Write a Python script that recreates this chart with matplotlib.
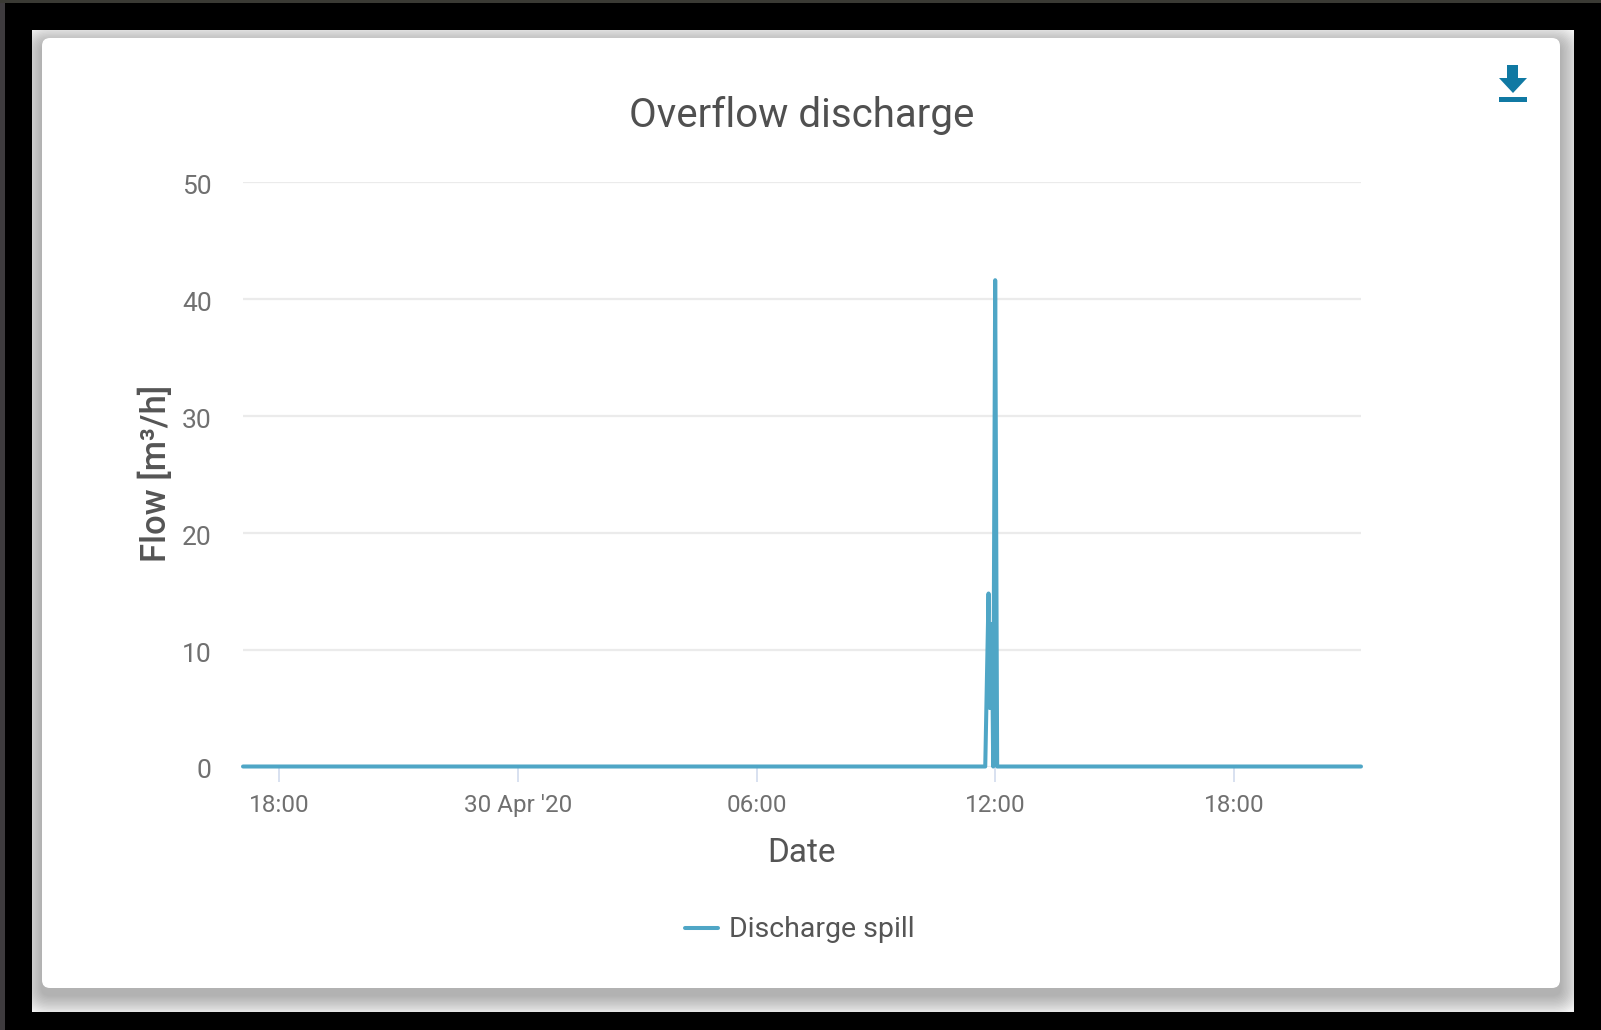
import matplotlib
matplotlib.use("Agg")
import matplotlib.pyplot as plt
from matplotlib.patches import FancyBboxPatch, Rectangle, Polygon
from matplotlib.transforms import ScaledTranslation
from datetime import datetime

plt.rcParams['font.family'] = ['Roboto', 'DejaVu Sans']

times = ["2020-04-29 17:05", "2020-04-30 11:45", "2020-04-30 11:50", "2020-04-30 11:52", "2020-04-30 11:55",
         "2020-04-30 11:57", "2020-04-30 12:00", "2020-04-30 12:03", "2020-04-30 21:12"]
flow = [0, 0, 14.8, 5, 12.2, 0, 41.6, 0, 0]
series_name = "Discharge spill"
yticks = [0, 10, 20, 30, 40, 50]
xtick_times = ["2020-04-29 18:00", "2020-04-30 00:00", "2020-04-30 06:00", "2020-04-30 12:00", "2020-04-30 18:00"]
xtick_labels = ["18:00", "30 Apr '20", "06:00", "12:00", "18:00"]

W, H = 1601, 1030
fig = plt.figure(figsize=(W/100, H/100), dpi=100, facecolor="black")

# page backdrop in pixel coordinates
bg = fig.add_axes([0, 0, 1, 1], zorder=0)
bg.set_xlim(0, W); bg.set_ylim(H, 0); bg.axis("off")
bg.add_patch(Rectangle((0, 0), 5, H, color="#3e3b3e", lw=0))
bg.add_patch(Rectangle((0, 0), W, 3, color="#3a3a34", lw=0))
bg.add_patch(Rectangle((32, 30), 1542, 982, color="#f2f2f2", lw=0))
# shadow
clip = Rectangle((32, 30), 1542, 982, transform=bg.transData)
n = 14
for i in range(n):
    g = (n - i) * 1.4
    p = FancyBboxPatch((42 - g, 38 + 7 - g), 1518 + 2*g, 950 + 2*g,
                       boxstyle="round,pad=0,rounding_size=%f" % (8 + g),
                       fc="black", ec="none", alpha=0.021)
    bg.add_patch(p)
    p.set_clip_path(clip)
bg.add_patch(FancyBboxPatch((42, 38), 1518, 950, boxstyle="round,pad=0,rounding_size=8", fc="white", ec="none"))
# download icon
ic = "#1079a3"
bg.add_patch(Polygon([(1507, 65), (1518, 65), (1518, 78), (1527, 78), (1513, 93), (1499, 78), (1507, 78)], fc=ic, ec="none"))
bg.add_patch(Rectangle((1498.5, 97), 28.5, 5, fc=ic, ec="none"))

# chart
L, R, T, B = 243, 1361, 182, 766.5
ax = fig.add_axes([L/W, 1 - B/H, (R-L)/W, (B-T)/H], zorder=1)
ax.patch.set_alpha(0)
t = [datetime.strptime(s, "%Y-%m-%d %H:%M") for s in times]
line, = ax.plot(t, flow, color="#4fa6c6", lw=2.9, solid_joinstyle="round", solid_capstyle="round",
                clip_on=False, label=series_name, zorder=3)
ax.set_xlim(t[0], t[-1])
ax.set_ylim(0, 50)
ax.set_yticks(yticks)
ax.set_xticks([datetime.strptime(s, "%Y-%m-%d %H:%M") for s in xtick_times])
ax.set_xticklabels(xtick_labels)
ax.grid(axis="y", color="#ebebeb", lw=1.6)
ax.set_axisbelow(True)
for s in ax.spines.values():
    s.set_visible(False)
ax.tick_params(axis="y", length=0, pad=22.5, labelsize=19, labelcolor="#707070")
ax.tick_params(axis="x", length=11, width=1.3, color="#d5deef", pad=8.5, labelsize=17.5, labelcolor="#707070")
shift = ScaledTranslation(0, -5/100, fig.dpi_scale_trans)
for lab in ax.get_yticklabels():
    lab.set_verticalalignment("center")
    lab.set_transform(lab.get_transform() + shift)

fig.text(802/W, 1 - 115.5/H, "Overflow discharge", ha="center", va="center", fontsize=29, color="#505050")
fig.text(156/W, 1 - 473/H, "Flow [m³/h]", rotation=90, ha="center", va="center", fontsize=25, color="#555555", fontweight="medium")
fig.text(801/W, 1 - 853/H, "Date", ha="center", va="center", fontsize=24, color="#555555")
leg = ax.legend(handles=[line], loc="center", bbox_to_anchor=((800-L)/(R-L), 1 - (930-T)/(B-T)), frameon=False,
                fontsize=20.5, labelcolor="#555555", handlelength=1.15, handletextpad=0.4, borderpad=0)

fig.savefig("out.png", dpi=100, facecolor="black")
